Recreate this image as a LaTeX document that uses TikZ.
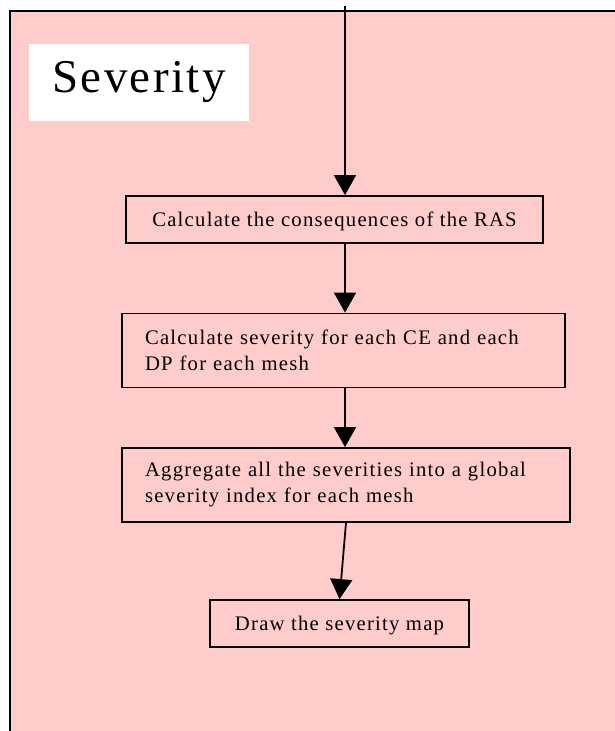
\documentclass[tikz,border=0pt]{standalone}
\usepackage{fontspec}
\setmainfont{Liberation Serif}
\newfontfamily\boxfont[LetterSpace=6]{Liberation Serif}
\newfontfamily\titlefont[LetterSpace=5]{Liberation Serif}
\usetikzlibrary{arrows.meta}
\definecolor{panelpink}{HTML}{FFCCCC}
\tikzset{
  stepbox/.style={draw=black, line width=1.8pt, fill=panelpink, inner sep=0pt,
    font=\boxfont\fontsize{20.7}{26}\selectfont},
  flow/.style={draw=black, line width=1.8pt, -{Triangle[width=22pt,length=20pt]}},
}
\begin{document}
\begin{tikzpicture}[x=1pt, y=-1pt]
  \useasboundingbox[fill=white] (0,0) rectangle (615,731);
  % pink panel, running past the right and bottom edges
  \draw[line width=2.2pt, fill=panelpink] (10,11) rectangle (630,750);
  % title label
  \node[fill=white, minimum width=220pt, minimum height=77pt, inner sep=0pt,
        font=\titlefont\fontsize{47}{52}\selectfont] (title) at (139,82.5) {Severity};
  % process steps
  \node[stepbox, text depth=0pt, minimum width=417pt, minimum height=47pt] (b1) at (334.5,219.5)
    {Calculate the consequences of the RAS};
  \node[stepbox, minimum width=443pt, minimum height=74pt, text width=397pt, align=left] (b2) at (343.5,350.5)
    {Calculate severity for each CE and each\\DP for each mesh};
  \node[stepbox, minimum width=448pt, minimum height=74pt, text width=402pt, align=left] (b3) at (346,485)
    {Aggregate all the severities into a global\\severity index for each mesh};
  \node[stepbox, text depth=0pt, minimum width=259pt, minimum height=47pt] (b4) at (339.5,623.5)
    {Draw the severity map};
  % connectors
  \coordinate (entry) at (345,6);
  \draw[flow] (entry) -- (entry |- b1.north);
  \draw[flow] (b1.south -| entry) -- (b2.north -| entry);
  \draw[flow] (b2.south -| entry) -- (b3.north -| entry);
  \draw[flow] (b3.south) -- (b4.north);
\end{tikzpicture}
\end{document}
